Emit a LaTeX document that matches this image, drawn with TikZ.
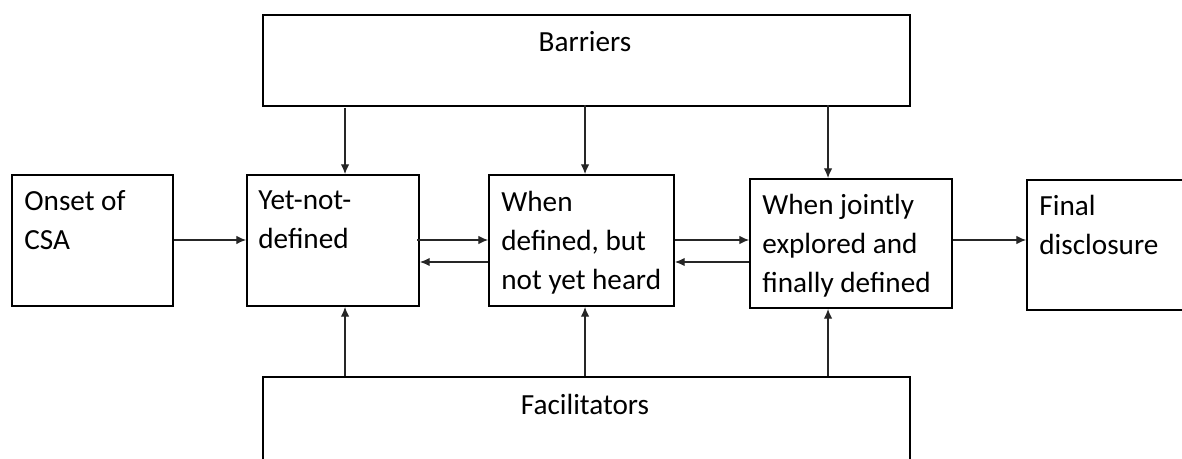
\documentclass[tikz,border=0pt]{standalone}
\usepackage{fontspec}
\setmainfont{Carlito}
\usetikzlibrary{arrows.meta,positioning}
\begin{document}
\begin{tikzpicture}[x=0.5pt,y=-0.5pt,
  box/.style={draw=black,line width=1pt,inner sep=0pt,minimum width=#1},
  lbl/.style={anchor=north west,inner sep=0pt,align=left,font=\fontsize{14.6pt}{19.5pt}\selectfont},
  ctr/.style={inner sep=0pt,font=\fontsize{14.6pt}{19.5pt}\selectfont},
  arr/.style={draw=black!85,line width=0.55pt,-{Latex[length=4.8pt,width=4.2pt]}}]
\useasboundingbox (0,0) rectangle (1182,459);
\clip (0,0) rectangle (1182,459);
% boxes
\node[box,minimum width=323.5pt,minimum height=45.5pt,anchor=north west] (bar) at (262,14) {};
\node[box,minimum width=323.5pt,minimum height=60pt,anchor=north west] (fac) at (262,376) {};
\node[box,minimum width=80.5pt,minimum height=65.5pt,anchor=north west] (onset) at (11,174) {};
\node[box,minimum width=86pt,minimum height=65.5pt,anchor=north west] (yet) at (246,174) {};
\node[box,minimum width=92.5pt,minimum height=65.5pt,anchor=north west] (when) at (488,174) {};
\node[box,minimum width=101pt,minimum height=64.5pt,anchor=north west] (joint) at (749,178) {};
\node[box,minimum width=90pt,minimum height=65pt,anchor=north west] (final) at (1026,179) {};
% texts
\node[ctr] (bart) at (585,42) {Barriers};
\node[ctr] (fact) at (585,404) {Facilitators};
\node[lbl] (onsett) at (24,190) {Onset of\\CSA};
\node[lbl] (yett) at (258,190) {Yet-not-\\defined};
\node[lbl] (whent) at (501,191) {When\\defined, but\\not yet heard};
\node[lbl] (jointt) at (762,194) {When jointly\\explored and\\finally defined};
\node[lbl] (finalt) at (1039,195) {Final\\disclosure};
% coordinates
\coordinate (b1) at (345,108);
\coordinate (b2) at (585,105);
\coordinate (b3) at (828,105);
% barrier arrows
\draw[arr] (b1) -- (b1 |- yet.north);
\draw[arr] (b2) -- (b2 |- when.north);
\draw[arr] (b3) -- (b3 |- joint.north);
% facilitator arrows
\draw[arr] (b1 |- fac.north) -- (b1 |- yet.south);
\draw[arr] (b2 |- fac.north) -- (b2 |- when.south);
\draw[arr] (b3 |- fac.north) -- (b3 |- joint.south);
% horizontal arrows
\coordinate (y1) at (0,240);
\coordinate (y2) at (0,262);
\draw[arr] (onset.east |- y1) -- (yet.west |- y1);
\draw[arr] ([xshift=-1.5pt]yet.east |- y1) -- (when.west |- y1);
\draw[arr] (when.west |- y2) -- (yet.east |- y2);
\draw[arr] (when.east |- y1) -- (joint.west |- y1);
\draw[arr] (joint.west |- y2) -- (when.east |- y2);
\draw[arr] (joint.east |- y1) -- (final.west |- y1);
\end{tikzpicture}
\end{document}
